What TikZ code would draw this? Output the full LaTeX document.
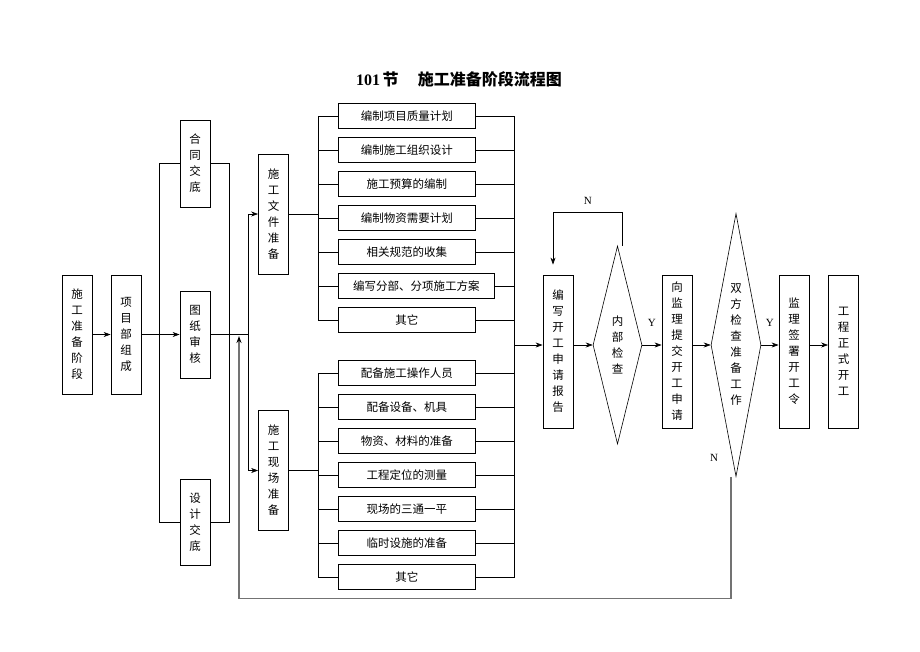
\documentclass[tikz,border=0pt]{standalone}
\usepackage{fontspec}
\setmainfont{Liberation Serif}
\newfontfamily\cjk{Noto Sans CJK SC}
\usetikzlibrary{arrows.meta, shapes.geometric}

\begin{document}
\begin{tikzpicture}[x=1pt, y=-1pt, >={Stealth[length=7pt, width=5pt]},
			line width=0.6pt,
			every node/.style={font=\cjk\fontsize{11.5}{16}\selectfont, inner sep=0pt},
			vbox/.style={draw, line width=0.8pt, minimum width=30pt, align=center},
			hbox/.style={draw, line width=0.8pt, minimum width=137pt, minimum height=25pt, anchor=west},
			dec/.style={diamond, draw, aspect=0.25, align=center},
			lbl/.style={font=\rmfamily\fontsize{11}{13}\selectfont},
			back/.style={draw=black!55, line width=1.2pt}]
			
			\useasboundingbox (0,0) rectangle (920,651);
			
			% Titolo
			\node[font=\rmfamily\bfseries\fontsize{16}{18}\selectfont] (title) at (459,79)
				{101\,{\cjk 节}\hspace{1.2em}{\cjk 施工准备阶段流程图}};
			
			% --- Colonna sinistra ---
			\node[vbox, minimum height=119pt] (s0) at (77,334.5) {施\\工\\准\\备\\阶\\段};
			\node[vbox, minimum height=119pt] (s1) at (126,334.5) {项\\目\\部\\组\\成};
			\node[vbox, minimum height=87pt] (ht) at (195,163.5) {合\\同\\交\\底};
			\node[vbox, minimum height=87pt] (tz) at (195,334.5) {图\\纸\\审\\核};
			\node[vbox, minimum height=86pt] (sj) at (195,522.5) {设\\计\\交\\底};
			\node[vbox, minimum height=120pt] (wj) at (273.5,214) {施\\工\\文\\件\\准\\备};
			\node[vbox, minimum height=120pt] (xc) at (273.5,470.5) {施\\工\\现\\场\\准\\备};
			
			\coordinate (fork) at (248,334.5);
			\coordinate (ret) at (239,336);
			\coordinate (wjl) at (318,214);
			\coordinate (xcl) at (318,470.5);
			\coordinate (bus) at (514,345);
			
			% --- Documenti ---
			\node[hbox] (a1) at (338,116) {编制项目质量计划};
			\node[hbox] (a2) at (338,150) {编制施工组织设计};
			\node[hbox] (a3) at (338,184) {施工预算的编制};
			\node[hbox] (a4) at (338,218) {编制物资需要计划};
			\node[hbox] (a5) at (338,252) {相关规范的收集};
			\node[hbox, minimum width=156pt] (a6) at (338,286) {编写分部、分项施工方案};
			\node[hbox] (a7) at (338,320) {其它};
			
			% --- Cantiere ---
			\node[hbox] (b1) at (338,373) {配备施工操作人员};
			\node[hbox] (b2) at (338,407) {配备设备、机具};
			\node[hbox] (b3) at (338,441) {物资、材料的准备};
			\node[hbox] (b4) at (338,475) {工程定位的测量};
			\node[hbox] (b5) at (338,509) {现场的三通一平};
			\node[hbox] (b6) at (338,543) {临时设施的准备};
			\node[hbox] (b7) at (338,577) {其它};
			
			% --- Colonna destra ---
			\node[vbox, minimum height=153pt] (app) at (558,351.5) {编\\写\\开\\工\\申\\请\\报\\告};
			\node[dec, minimum width=49pt, minimum height=198pt] (chk) at (617.5,345) {内\\部\\检\\查};
			\node[vbox, minimum height=153pt] (sub) at (677,351.5) {向\\监\\理\\提\\交\\开\\工\\申\\请};
			\node[dec, minimum width=50pt, minimum height=263pt] (both) at (736,345) {双\\方\\检\\查\\准\\备\\工\\作};
			\node[vbox, minimum height=153pt] (sign) at (794,351.5) {监\\理\\签\\署\\开\\工\\令};
			\node[vbox, minimum height=153pt] (go) at (843.5,351.5) {工\\程\\正\\式\\开\\工};
			\node[lbl] (n2) at (714,458) {N};
			
			% --- Collegamenti ---
			\draw[->] (s0) -- (s1);
			\draw[->] (s1) -- (tz);
			\draw (ht.west) -- ++(-20,0) |- (sj.west);
			\draw (ht.east) -- ++(19,0) |- (sj.east);
			\draw (tz.east) -- (fork);
			\draw[->] (fork) |- (wj.west);
			\draw[->] (fork) |- (xc.west);
			
			\draw (wj.east) -- (wjl);
			\draw (xc.east) -- (xcl);
			\foreach \i in {1,...,7} {
				\draw (wjl) |- (a\i.west);
				\draw (xcl) |- (b\i.west);
				\draw (a\i.east) -| (bus);
				\draw (b\i.east) -| (bus);
			}
			
			\draw[->] (bus) -- (app.west |- bus);
			\draw[->] (app.east |- chk.west) -- (chk.west);
			\draw[->, shorten >=10pt] ([xshift=5pt]chk.north) -- ++(0,-33)
				-| node[lbl, pos=0.25, above=8pt]{N} ([xshift=-5pt]app.north);
			\draw[->] (chk.east) -- node[lbl, above=18pt]{Y} (sub.west |- chk.east);
			\draw[->] (sub.east |- both.west) -- (both.west);
			\draw[->] (both.east) -- node[lbl, above=18pt]{Y} (sign.west |- both.east);
			\draw[->] (sign.east |- both.east) -- (go.west |- both.east);
			\draw[back, -{Stealth[length=7pt, width=5pt, black]}] ([xshift=-5pt]both.south) -- ++(0,122) -| (ret);
		\end{tikzpicture}
\end{document}
